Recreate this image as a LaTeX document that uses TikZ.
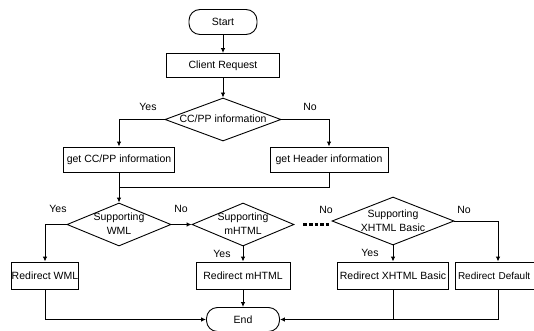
\documentclass[tikz,border=0pt]{standalone}
\usepackage{fontspec}
\setmainfont{Liberation Sans}
\usetikzlibrary{shapes.geometric,arrows.meta}
\newcommand\dtxt[1]{\smash{\makebox[0pt]{\raisebox{-3.3pt}{\begin{tabular}{@{}c@{}}#1\end{tabular}}}}}
\renewcommand\arraystretch{1.12}
\begin{document}
\begin{tikzpicture}[x=1pt,y=-1pt,line width=0.9pt,
  every node/.style={font=\fontsize{10.5}{12.5}\selectfont},
  box/.style={draw, rectangle, inner sep=0pt, minimum height=25pt},
  term/.style={draw, rectangle, rounded corners=11pt, inner sep=0pt, minimum height=25pt},
  dec/.style={draw, diamond, inner sep=0pt},
  lbl/.style={inner sep=0pt},
  arr/.style={-{Latex[length=5pt,width=4.5pt]}},
  dotline/.style={line width=3pt, dash pattern=on 3.6pt off 2pt}
]
\useasboundingbox (0,0) rectangle (534,331);
% nodes
\node[term, minimum width=68pt] (start) at (223,22) {Start};
\node[box, minimum width=113pt, minimum height=24pt] (req) at (223,65.5) {Client Request};
\node[dec, minimum width=116pt, minimum height=43pt] (cc) at (223,119.5) {\dtxt{CC/PP information}};
\node[box, minimum width=111pt] (getcc) at (119,159.5) {get CC/PP information};
\node[box, minimum width=118pt] (gethdr) at (329,159.5) {get Header information};
\node[dec, minimum width=104pt, minimum height=43pt] (wml) at (119,224.5) {\dtxt{Supporting\\WML}};
\node[dec, minimum width=102pt, minimum height=43pt] (mhtml) at (243,224.5) {\dtxt{Supporting\\mHTML}};
\node[dec, minimum width=122pt, minimum height=48pt] (xhtml) at (393,221) {\dtxt{Supporting\\XHTML Basic}};
\node[box, minimum width=67pt, minimum height=27pt] (rwml) at (45,275.5) {Redirect WML};
\node[box, minimum width=94pt, minimum height=27pt] (rmhtml) at (243,275.5) {Redirect mHTML};
\node[box, minimum width=111pt, minimum height=27pt] (rxhtml) at (393,275.5) {Redirect XHTML Basic};
\node[box, minimum height=27pt, text width=80pt, inner xsep=3pt, align=left,
      font=\fontsize{10}{12}\selectfont] (rdef) at (498,275.5) {Redirect Default};
\node[term, minimum width=73pt, minimum height=24pt] (end) at (243,319.5) {End};
% labels
\node[lbl] (y1) at (148,107) {Yes};
\node[lbl] (n1) at (310,107) {No};
\node[lbl] (y2) at (58,209) {Yes};
\node[lbl] (n2) at (181,209) {No};
\node[lbl] (y3) at (222,254) {Yes};
\node[lbl] (n3) at (326,210) {No};
\node[lbl] (n4) at (464,210) {No};
\node[lbl] (y4) at (370,253) {Yes};
% connectors
\coordinate (m) at (119,187);
\draw[arr] (start.south) -- (req.north);
\draw[arr] (req.south) -- (cc.north);
\draw[arr] (cc.west) -| (getcc.north);
\draw[arr] (cc.east) -| (gethdr.north);
\draw (gethdr.south) |- (m);
\draw[arr] (getcc.south) -- (wml.north);
\draw[arr] (wml.east) -- (mhtml.west);
\draw[arr] (wml.west) -| (rwml.north);
\draw[arr] (mhtml.south) -- (rmhtml.north);
\draw[arr] (rmhtml.south) -- (end.north);
\draw[arr] (xhtml.south) -- (rxhtml.north);
\draw[arr] (xhtml.east) -| (rdef.north);
\draw[dotline] ([xshift=9pt]mhtml.east) -- ([xshift=-2pt]mhtml.east -| xhtml.west);
\draw[arr] (rwml.south) |- (end.west);
\draw (rxhtml.south) -- (rxhtml.south |- end.east);
\draw[arr] (rdef.south) |- (end.east);
\end{tikzpicture}
\end{document}
